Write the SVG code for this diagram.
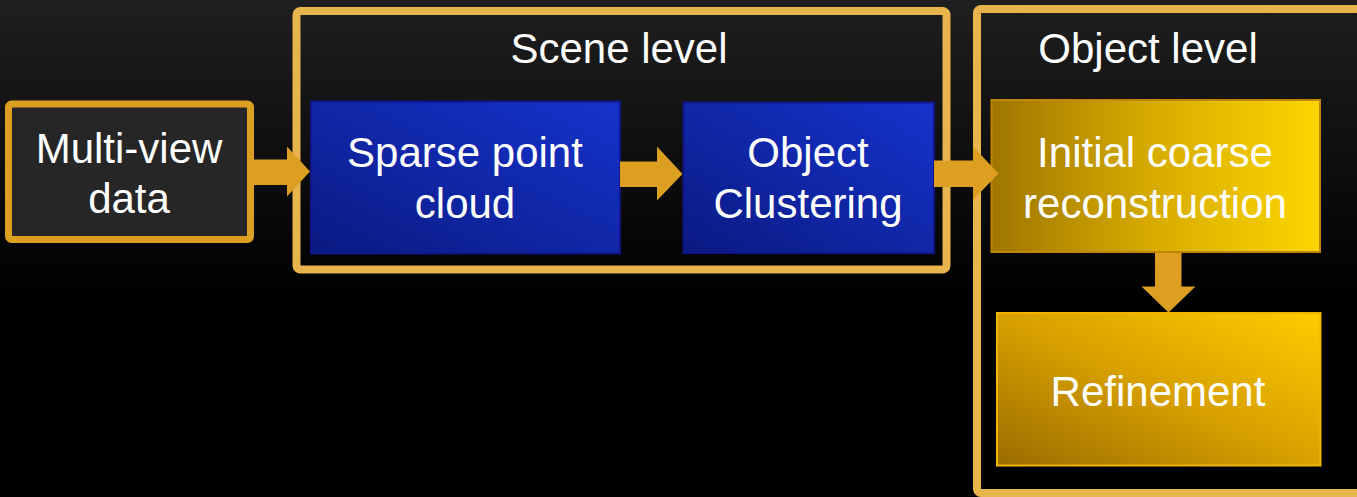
<svg xmlns="http://www.w3.org/2000/svg" width="1357" height="497" viewBox="0 0 1357 497">
  <defs>
    <linearGradient id="bg" x1="0" y1="0" x2="0" y2="1">
      <stop offset="0" stop-color="#1f1f1f"/>
      <stop offset="0.6" stop-color="#000000"/>
      <stop offset="1" stop-color="#000000"/>
    </linearGradient>
    <linearGradient id="blueFill" x1="0" y1="1" x2="1" y2="0">
      <stop offset="0" stop-color="#0a1a82"/>
      <stop offset="1" stop-color="#1633cc"/>
    </linearGradient>
    <linearGradient id="goldH" x1="0" y1="0" x2="1" y2="0">
      <stop offset="0" stop-color="#9e7600"/>
      <stop offset="0.5" stop-color="#d8ac00"/>
      <stop offset="1" stop-color="#fcd600"/>
    </linearGradient>
    <linearGradient id="goldD" x1="0" y1="1" x2="1" y2="0">
      <stop offset="0" stop-color="#9a6c00"/>
      <stop offset="0.5" stop-color="#d8a000"/>
      <stop offset="1" stop-color="#ffcc00"/>
    </linearGradient>
    <style>
      .lbl { font-family: "Liberation Sans", Arial, sans-serif; font-size: 42px; fill: #ffffff; text-anchor: middle; }
      .frame { fill: none; stroke: #e8b44c; stroke-width: 8; }
      .blue { stroke: #10158a; stroke-width: 2; fill: url(#blueFill); }
      .arrow { fill: #dc9f22; }
    </style>
  </defs>

  <rect x="0" y="0" width="1357" height="497" fill="url(#bg)"/>

  <!-- level frames -->
  <g id="scene-level">
    <rect class="frame" x="296.5" y="11" width="650" height="258.5" rx="4"/>
    <text class="lbl" x="619" y="63">Scene level</text>
  </g>
  <g id="object-level">
    <rect class="frame" x="977" y="9" width="400" height="484" rx="4"/>
    <text class="lbl" x="1148" y="63">Object level</text>
  </g>

  <!-- input -->
  <g id="multi-view-data">
    <rect x="8.5" y="104" width="242" height="135.5" rx="3" fill="#262626" stroke="#dba022" stroke-width="7"/>
    <text class="lbl" x="129" y="163">Multi-view</text>
    <text class="lbl" x="129" y="213">data</text>
  </g>

  <!-- scene-level steps -->
  <g id="sparse-point-cloud">
    <rect class="blue" x="311" y="101.5" width="309" height="152"/>
    <text class="lbl" x="465" y="167">Sparse point</text>
    <text class="lbl" x="465" y="218">cloud</text>
  </g>
  <g id="object-clustering">
    <rect class="blue" x="683.5" y="102.5" width="250.5" height="150.5"/>
    <text class="lbl" x="808" y="167">Object</text>
    <text class="lbl" x="808" y="218">Clustering</text>
  </g>

  <!-- object-level steps -->
  <g id="initial-coarse-reconstruction">
    <rect x="991.5" y="100" width="328.5" height="152" fill="url(#goldH)" stroke="#c48400" stroke-width="2"/>
    <text class="lbl" x="1155" y="167">Initial coarse</text>
    <text class="lbl" x="1155" y="218">reconstruction</text>
  </g>
  <g id="refinement">
    <rect x="997" y="313" width="323.5" height="152.5" fill="url(#goldD)" stroke="#f2b400" stroke-width="2"/>
    <text class="lbl" x="1158" y="406">Refinement</text>
  </g>

  <!-- block arrows -->
  <g id="connectors">
    <polygon class="arrow" points="250,159.5 287,159.5 287,146.5 310,171.5 287,196.5 287,185 250,185"/>
    <polygon class="arrow" points="620,161.5 657,161.5 657,146.5 682.5,174 657,200.5 657,187 620,187"/>
    <polygon class="arrow" points="934,160.5 973,160.5 973,146.5 998.5,173.5 973,200 973,187 934,187"/>
    <polygon class="arrow" points="1155,253 1181.5,253 1181.5,286.5 1195.5,286.5 1168.5,312.5 1141.5,286.5 1155,286.5"/>
  </g>
</svg>
